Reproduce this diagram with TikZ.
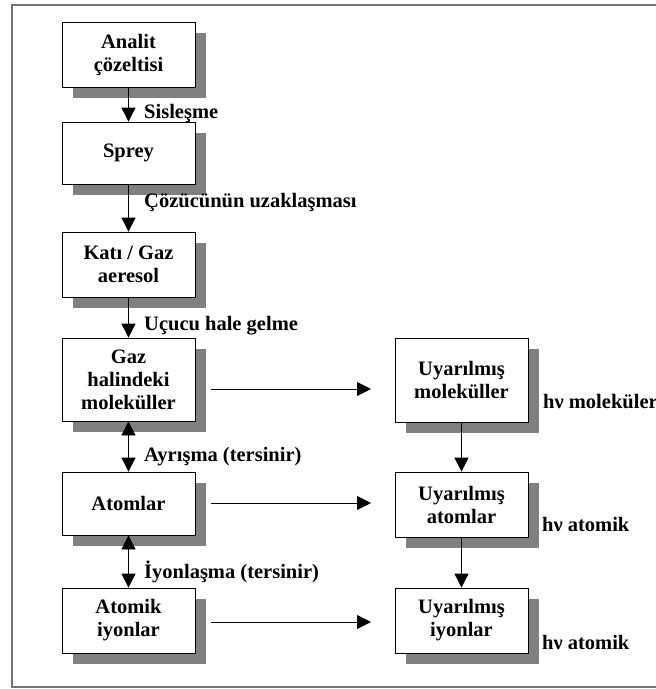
\documentclass[tikz,border=0pt]{standalone}
\usepackage{fontspec}
\setmainfont{Liberation Serif}
\usetikzlibrary{arrows.meta,shadows}
\begin{document}
\begin{tikzpicture}[x=1pt,y=-1pt,
  every node/.style={font=\fontsize{20.5}{23}\selectfont\bfseries},
  box/.style={draw=black,line width=0.8pt,fill=white,minimum width=133pt,align=center,inner sep=2pt,
    drop shadow={shadow xshift=11pt,shadow yshift=-11pt,fill=black!50,opacity=1}},
  lbl/.style={anchor=west,inner sep=0pt},
  arr/.style={line width=0.8pt,-{Triangle[length=14pt,width=14pt]}},
  darr/.style={line width=0.8pt,{Triangle[length=14pt,width=14pt]}-{Triangle[length=14pt,width=14pt]}}]
\useasboundingbox (0,0) rectangle (656,689);
\fill[white] (0,0) rectangle (656,689);
\draw[black!55,line width=2pt] (670,5) -- (12,5) -- (12,687) -- (670,687);

% left column
\node[box,minimum height=65pt] (A) at (128.5,54.5) {Analit\\çözeltisi};
\node[box,minimum height=62pt] (S) at (128.5,153) {Sprey};
\node[box,minimum height=65pt] (K) at (128.5,264.5) {Katı / Gaz\\aeresol};
\node[box,minimum height=83pt] (G) at (128.5,379.5) {Gaz\\halindeki\\moleküller};
\node[box,minimum height=63pt] (At) at (128.5,503.5) {Atomlar};
\node[box,minimum height=65pt] (AI) at (128.5,620.5) {Atomik\\iyonlar};

% right column
\node[box,minimum height=84pt] (UM) at (461.5,380) {Uyarılmış\\moleküller};
\node[box,minimum height=65pt] (UA) at (461.5,504.5) {Uyarılmış\\atomlar};
\node[box,minimum height=65pt] (UI) at (461.5,620.5) {Uyarılmış\\iyonlar};

% vertical arrows
\draw[arr] (A.south) -- (S.north);
\draw[arr] (S.south) -- (K.north);
\draw[arr] (K.south) -- (G.north);
\draw[darr] (G.south) -- (At.north);
\draw[darr] (At.south) -- (AI.north);
\draw[arr] (UM.south) -- (UA.north);
\draw[arr] (UA.south) -- (UI.north);

% horizontal arrows
\coordinate (h1s) at (211,389); \coordinate (h1e) at (371,389);
\coordinate (h2s) at (211,503); \coordinate (h2e) at (371,503);
\coordinate (h3s) at (211,622); \coordinate (h3e) at (371,622);
\draw[arr] (h1s) -- (h1e);
\draw[arr] (h2s) -- (h2e);
\draw[arr] (h3s) -- (h3e);

% labels
\node[lbl] (l1) at (144,113) {Sisleşme};
\node[lbl] (l2) at (144,202) {Çözücünün uzaklaşması};
\node[lbl] (l3) at (144,326) {Uçucu hale gelme};
\node[lbl] (l4) at (144,457) {Ayrışma (tersinir)};
\node[lbl] (l5) at (144,572) {İyonlaşma (tersinir)};
\node[lbl] (r1) at (543,402) {hν moleküler};
\node[lbl] (r2) at (542,524) {hν atomik};
\node[lbl] (r3) at (542,642) {hν atomik};
\end{tikzpicture}
\end{document}
